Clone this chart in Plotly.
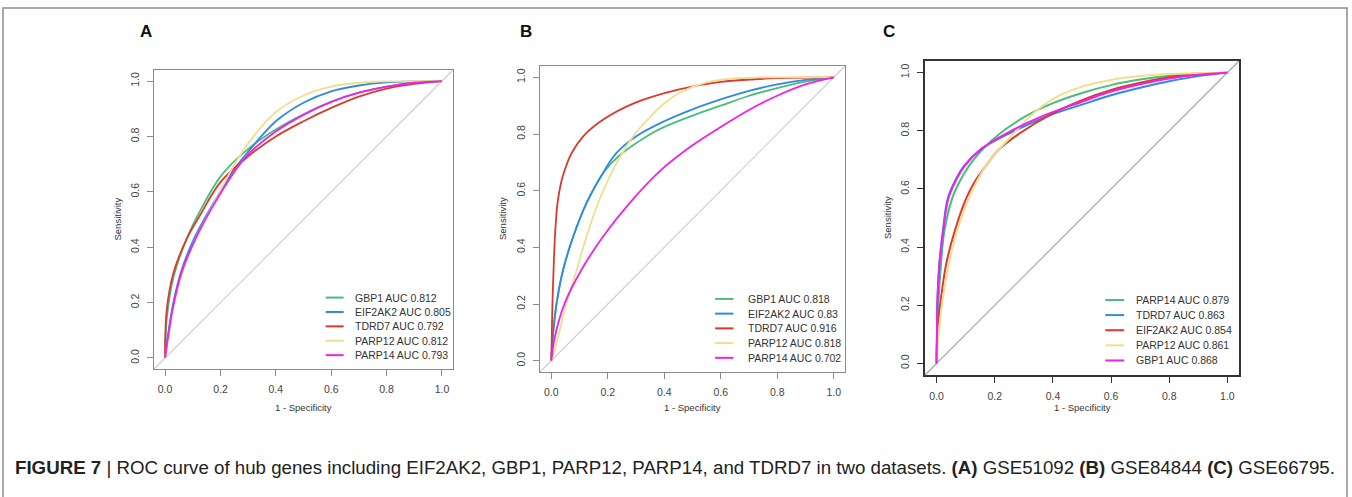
import plotly.graph_objects as go

W, H = 1352, 497

# ---------------- data ----------------
tick_vals = [0.0, 0.2, 0.4, 0.6, 0.8, 1.0]
tick_text = ["0.0", "0.2", "0.4", "0.6", "0.8", "1.0"]

# Panel A  (GSE51092)
a_names = ["GBP1", "EIF2AK2", "TDRD7", "PARP12", "PARP14"]
a_auc = ["0.812", "0.805", "0.792", "0.812", "0.793"]
a_gbp1_fpr = [0, 0.006, 0.03, 0.078, 0.126, 0.2, 0.3, 0.4, 0.5, 0.6, 0.7, 0.8, 0.9, 1]
a_gbp1_tpr = [0, 0.14, 0.29, 0.43, 0.53, 0.655, 0.755, 0.825, 0.88, 0.925, 0.958, 0.98, 0.994, 1]
a_eif2ak2_fpr = [0, 0.01, 0.03, 0.06, 0.108, 0.174, 0.247, 0.3, 0.4, 0.5, 0.6, 0.7, 0.8, 0.9, 1]
a_eif2ak2_tpr = [0, 0.08, 0.2, 0.318, 0.438, 0.558, 0.678, 0.745, 0.855, 0.922, 0.963, 0.984, 0.995, 0.999, 1]
a_tdrd7_fpr = [0, 0.006, 0.03, 0.078, 0.126, 0.2, 0.3, 0.4, 0.5, 0.6, 0.7, 0.8, 0.9, 1]
a_tdrd7_tpr = [0, 0.174, 0.306, 0.43, 0.515, 0.635, 0.728, 0.80, 0.855, 0.903, 0.944, 0.973, 0.99, 1]
a_parp12_fpr = [0, 0.01, 0.03, 0.06, 0.11, 0.175, 0.24, 0.3, 0.4, 0.5, 0.6, 0.7, 0.8, 1]
a_parp12_tpr = [0, 0.06, 0.18, 0.30, 0.43, 0.555, 0.68, 0.775, 0.888, 0.948, 0.98, 0.994, 0.999, 1]
a_parp14_fpr = [0, 0.01, 0.03, 0.06, 0.11, 0.175, 0.25, 0.3, 0.4, 0.5, 0.6, 0.7, 0.8, 0.9, 1]
a_parp14_tpr = [0, 0.07, 0.19, 0.31, 0.43, 0.552, 0.672, 0.735, 0.818, 0.878, 0.925, 0.958, 0.98, 0.994, 1]

# Panel B  (GSE84844)
b_names = ["GBP1", "EIF2AK2", "TDRD7", "PARP12", "PARP14"]
b_auc = ["0.818", "0.83", "0.916", "0.818", "0.702"]
b_gbp1_fpr = [0, 0.005, 0.019, 0.042, 0.078, 0.125, 0.19, 0.242, 0.343, 0.4, 0.5, 0.6, 0.7, 0.8, 0.9, 1]
b_gbp1_tpr = [0, 0.08, 0.204, 0.321, 0.439, 0.557, 0.67, 0.725, 0.795, 0.825, 0.865, 0.9, 0.935, 0.962, 0.985, 1]
b_eif2ak2_fpr = [0, 0.005, 0.019, 0.042, 0.078, 0.125, 0.19, 0.231, 0.301, 0.4, 0.5, 0.6, 0.7, 0.8, 0.9, 1]
b_eif2ak2_tpr = [0, 0.08, 0.204, 0.321, 0.439, 0.557, 0.674, 0.733, 0.792, 0.845, 0.887, 0.922, 0.952, 0.975, 0.991, 1]
b_tdrd7_fpr = [0, 0.002, 0.004, 0.008, 0.013, 0.022, 0.035, 0.048, 0.072, 0.113, 0.184, 0.296, 0.449, 0.6, 0.8, 1]
b_tdrd7_tpr = [0, 0.1, 0.2, 0.32, 0.44, 0.557, 0.63, 0.674, 0.733, 0.792, 0.851, 0.91, 0.957, 0.984, 0.997, 1]
b_parp12_fpr = [0, 0.01, 0.025, 0.054, 0.09, 0.125, 0.166, 0.219, 0.29, 0.35, 0.396, 0.46, 0.55, 0.65, 0.8, 1]
b_parp12_tpr = [0, 0.03, 0.086, 0.204, 0.321, 0.439, 0.557, 0.674, 0.792, 0.86, 0.905, 0.948, 0.982, 0.996, 1.0, 1]
b_parp14_fpr = [0, 0.013, 0.048, 0.107, 0.184, 0.278, 0.39, 0.5, 0.6, 0.7, 0.8, 0.9, 1]
b_parp14_tpr = [0, 0.086, 0.204, 0.321, 0.439, 0.557, 0.674, 0.76, 0.825, 0.885, 0.935, 0.975, 1]

# Panel C  (GSE66795)
c_names = ["PARP14", "TDRD7", "EIF2AK2", "PARP12", "GBP1"]
c_auc = ["0.879", "0.863", "0.854", "0.861", "0.868"]
c_parp14_fpr = [0, 0.002, 0.007, 0.015, 0.026, 0.053, 0.078, 0.112, 0.159, 0.222, 0.308, 0.4, 0.5, 0.6, 0.7, 0.8, 0.9, 1]
c_parp14_tpr = [0, 0.1, 0.223, 0.34, 0.451, 0.566, 0.623, 0.68, 0.737, 0.794, 0.851, 0.895, 0.93, 0.957, 0.976, 0.989, 0.997, 1]
c_tdrd7_fpr = [0, 0.001, 0.003, 0.01, 0.021, 0.038, 0.061, 0.095, 0.153, 0.256, 0.383, 0.5, 0.6, 0.7, 0.8, 0.9, 1]
c_tdrd7_tpr = [0, 0.1, 0.223, 0.35, 0.451, 0.566, 0.623, 0.68, 0.737, 0.794, 0.851, 0.89, 0.922, 0.948, 0.97, 0.988, 1]
c_eif2ak2_fpr = [0, 0.003, 0.015, 0.032, 0.061, 0.101, 0.13, 0.17, 0.216, 0.29, 0.39, 0.5, 0.6, 0.7, 0.8, 0.9, 1]
c_eif2ak2_tpr = [0, 0.108, 0.223, 0.337, 0.451, 0.566, 0.623, 0.68, 0.737, 0.794, 0.855, 0.905, 0.94, 0.965, 0.984, 0.995, 1]
c_parp12_fpr = [0, 0.005, 0.021, 0.041, 0.069, 0.11, 0.17, 0.268, 0.35, 0.42, 0.5, 0.6, 0.7, 0.8, 0.9, 1]
c_parp12_tpr = [0, 0.08, 0.223, 0.337, 0.451, 0.566, 0.68, 0.794, 0.875, 0.92, 0.952, 0.975, 0.988, 0.995, 0.999, 1]
c_gbp1_fpr = [0, 0.001, 0.003, 0.01, 0.022, 0.04, 0.063, 0.097, 0.153, 0.245, 0.366, 0.5, 0.6, 0.7, 0.8, 0.9, 1]
c_gbp1_tpr = [0, 0.1, 0.22, 0.345, 0.451, 0.566, 0.623, 0.68, 0.737, 0.794, 0.851, 0.9, 0.935, 0.96, 0.98, 0.993, 1]

caption = ("<b>FIGURE 7</b> | ROC curve of hub genes including EIF2AK2, GBP1, PARP12, PARP14, "
           "and TDRD7 in two datasets. <b>(A)</b> GSE51092 <b>(B)</b> GSE84844 <b>(C)</b> GSE66795.")

# ---------------- styling ----------------
COLORS = ["#47BE7C", "#2E8BE0", "#DA3A2E", "#F0DE8E", "#EE22EA"]
FONT = "Liberation Sans, Arial, Helvetica, sans-serif"
RANGE = [-0.04, 1.04]


def px_x(p):
    return p / W


def px_y(p):
    return 1 - p / H


panels = [
    dict(key="", names=a_names, auc=a_auc,
         curves=[(a_gbp1_fpr, a_gbp1_tpr), (a_eif2ak2_fpr, a_eif2ak2_tpr), (a_tdrd7_fpr, a_tdrd7_tpr),
                 (a_parp12_fpr, a_parp12_tpr), (a_parp14_fpr, a_parp14_tpr)],
         box=(154, 70, 453, 369), letter="A", letter_x=146, sens_x=117,
         axis_color="#8a8a8a", axis_w=1.3, diag="#cfcfcf", lw=1.8, leg_tx=0.68),
    dict(key="2", names=b_names, auc=b_auc,
         curves=[(b_gbp1_fpr, b_gbp1_tpr), (b_eif2ak2_fpr, b_eif2ak2_tpr), (b_tdrd7_fpr, b_tdrd7_tpr),
                 (b_parp12_fpr, b_parp12_tpr), (b_parp14_fpr, b_parp14_tpr)],
         box=(540, 66, 845, 372), letter="B", letter_x=526, sens_x=502,
         axis_color="#8a8a8a", axis_w=1.3, diag="#cfcfcf", lw=1.8, leg_tx=0.689),
    dict(key="3", names=c_names, auc=c_auc,
         curves=[(c_parp14_fpr, c_parp14_tpr), (c_tdrd7_fpr, c_tdrd7_tpr), (c_eif2ak2_fpr, c_eif2ak2_tpr),
                 (c_parp12_fpr, c_parp12_tpr), (c_gbp1_fpr, c_gbp1_tpr)],
         box=(925, 61, 1239, 375), letter="C", letter_x=889, sens_x=887,
         axis_color="#333333", axis_w=2.0, diag="#a8a8a8", lw=2.0, leg_tx=0.679),
]

fig = go.Figure()
layout = dict(width=W, height=H, autosize=False, margin=dict(l=0, r=0, t=0, b=0),
              paper_bgcolor="white", plot_bgcolor="white", showlegend=False,
              font=dict(family=FONT, color="#333333"))
shapes = []
annotations = []

for p in panels:
    k = p["key"]
    xr, yr = "x" + k, "y" + k
    l, t, r, b = p["box"]
    for i, (fx, ty) in enumerate(p["curves"]):
        fig.add_trace(go.Scatter(x=fx, y=ty, mode="lines", xaxis=xr, yaxis=yr,
                                 name=p["names"][i],
                                 line=dict(color=COLORS[i], width=p["lw"], shape="spline", smoothing=1.0)))
    axis_common = dict(range=RANGE, tickvals=tick_vals, ticktext=tick_text, ticks="outside",
                       ticklen=6, tickwidth=1, tickcolor=p["axis_color"], showline=True, mirror=True,
                       linecolor=p["axis_color"], linewidth=p["axis_w"], showgrid=False, zeroline=False,
                       tickfont=dict(family=FONT, size=10.5, color="#444444"), fixedrange=True)
    layout["xaxis" + k] = dict(axis_common, domain=[px_x(l), px_x(r)], anchor=yr, ticklabelstandoff=4)
    layout["yaxis" + k] = dict(axis_common, domain=[px_y(b), px_y(t)], anchor=xr, tickangle=-90,
                               ticklabelstandoff=4)
    # chance diagonal across the plotting region
    shapes.append(dict(type="line", xref=xr + " domain", yref=yr + " domain", x0=0, y0=0, x1=1, y1=1,
                       line=dict(color=p["diag"], width=1.2), layer="below"))
    # legend (drawn in data units, like R's legend())
    for i, (nm, au) in enumerate(zip(p["names"], p["auc"])):
        yy = 0.218 - i * 0.052
        shapes.append(dict(type="line", xref=xr, yref=yr, x0=0.58, x1=0.645, y0=yy, y1=yy,
                           line=dict(color=COLORS[i], width=2)))
        annotations.append(dict(xref=xr, yref=yr, x=p["leg_tx"], y=yy, text=f"{nm} AUC {au}",
                                showarrow=False, xanchor="left", yanchor="middle",
                                font=dict(family=FONT, size=10.5, color="#333333")))
    # axis titles
    annotations.append(dict(xref="paper", yref="paper", x=px_x(p["sens_x"]), y=px_y((t + b) / 2),
                            text="Sensitivity", textangle=-90, showarrow=False,
                            xanchor="center", yanchor="middle",
                            font=dict(family=FONT, size=9.5, color="#333333")))
    annotations.append(dict(xref=xr, yref="paper", x=0.5, y=px_y(407),
                            text="1 - Specificity", showarrow=False, xanchor="center", yanchor="middle",
                            font=dict(family=FONT, size=9.5, color="#333333")))
    # panel letter
    annotations.append(dict(xref="paper", yref="paper", x=px_x(p["letter_x"]), y=px_y(32),
                            text="<b>" + p["letter"] + "</b>", showarrow=False,
                            xanchor="center", yanchor="middle",
                            font=dict(family=FONT, size=17, color="#111111")))

# outer frame (top, left, right)
shapes.append(dict(type="path", xref="paper", yref="paper",
                   path=f"M {px_x(3)},{px_y(H + 5)} L {px_x(3)},{px_y(8)} L {px_x(1347)},{px_y(8)} L {px_x(1347)},{px_y(H + 5)}",
                   line=dict(color="#8c8c8c", width=1.5)))

annotations.append(dict(xref="paper", yref="paper", x=px_x(14), y=px_y(467), text=caption,
                        showarrow=False, xanchor="left", yanchor="middle", borderpad=0,
                        font=dict(family=FONT, size=18.7, color="#222222")))

layout["shapes"] = shapes
layout["annotations"] = annotations
fig.update_layout(**layout)
fig.write_html("out.html", config={"displayModeBar": False},
               post_script="document.body.style.margin='0';document.body.style.overflow='hidden';")
